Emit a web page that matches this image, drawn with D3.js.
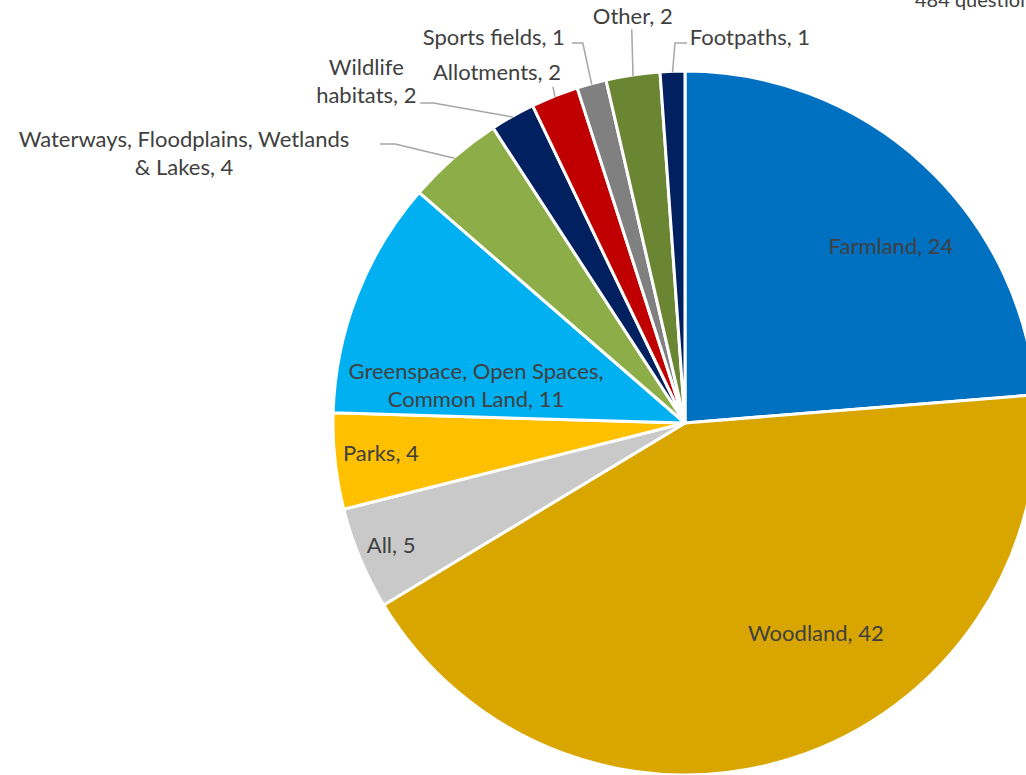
<!DOCTYPE html>
<html>
<head>
<meta charset="utf-8">
<script src="https://cdn.jsdelivr.net/npm/d3@7"></script>
<style>
  html, body { margin: 0; padding: 0; background: #fff; overflow: hidden; }
</style>
</head>
<body>
<div id="viz"></div>
<script>
(function() {

// Categories in clockwise order from 12 o'clock.
const categories = ["Farmland", "Woodland", "All", "Parks",
  "Greenspace, Open Spaces, Common Land", "Waterways, Floodplains, Wetlands & Lakes",
  "Wildlife habitats", "Allotments", "Sports fields", "Other", "Footpaths"];
// Shares (labels show them rounded).
const shares = [23.7, 42.6, 4.7, 4.4, 10.9, 4.45, 2.05, 2.17, 1.35, 2.47, 1.13];
// Numbers printed on the data labels.
const labelValues = [24, 42, 5, 4, 11, 4, 2, 2, 1, 2, 1];
const colors = ["#0070C0", "#D9A600", "#C9C9C9", "#FFC000", "#00B0F0", "#8CAD47",
  "#002060", "#C00000", "#808080", "#6A8633", "#002060"];
// How each label text is broken into lines.
const labelLines = [
  ["Farmland, 24"], ["Woodland, 42"], ["All, 5"], ["Parks, 4"],
  ["Greenspace, Open Spaces,", "Common Land, 11"],
  ["Waterways, Floodplains, Wetlands", "& Lakes, 4"],
  ["Wildlife", "habitats, 2"], ["Allotments, 2"], ["Sports fields, 1"],
  ["Other, 2"], ["Footpaths, 1"]
];

let canvasWidth = 1026;
let canvasHeight = 775;
let cx = 685;
let cy = 423;
let radius = 352;
let fontSize = 22;
let lineHeight = 28.5;

// Label centres in polar form: [angle in degrees clockwise from top, radius factor].
let labelPolar = [
  [49.2, 0.773], [147.9, 0.70], [247.6, 0.903], [264.55, 0.868], [280.6, 0.604],
  [298.4, 1.618], [317.1, 1.33], [331.9, 1.134], [333.7, 1.226], [352.7, 1.168], [9.53, 1.115]
];
// Leader lines for outside labels: end point offset from label centre and elbow length.
let leaders = {
  5: { end: [196, -8], elbow: 15 },
  6: { end: [54, 23], elbow: 13 },
  7: { end: [56, 16], elbow: 0 },
  8: { end: [78, 7], elbow: 11 },
  9: { end: [-1, 14], elbow: 0 },
  10: { end: [-63, 7], elbow: -12 }
};

function polar(angleDeg, dist) {
  let a = angleDeg * Math.PI / 180;
  return [cx + dist * Math.sin(a), cy - dist * Math.cos(a)];
}

let svg = d3.select("#viz").append("svg")
  .attr("width", canvasWidth)
  .attr("height", canvasHeight);

let data = categories.map((c, i) => ({ name: c, share: shares[i], i: i }));

let pie = d3.pie()
  .sort(null)
  .value((d) => d.share);
let arcs = pie(data);
let arc = d3.arc().innerRadius(0).outerRadius(radius);

let slices = svg.append("g")
  .attr("transform", "translate(" + cx + "," + cy + ")");
slices.selectAll("path")
  .data(arcs)
  .enter().append("path")
    .attr("d", arc)
    .attr("fill", (d) => colors[d.data.i])
    .attr("stroke", "#fff")
    .attr("stroke-width", 3)
    .attr("stroke-linejoin", "round");

// Leader lines
let leaderRoot = svg.append("g");
arcs.forEach((d) => {
  let L = leaders[d.data.i];
  if (!L) return;
  let mid = (d.startAngle + d.endAngle) / 2 * 180 / Math.PI;
  let start = polar(mid, radius - 1);
  let lp = labelPolar[d.data.i];
  let c = polar(lp[0], lp[1] * radius);
  let end = [c[0] + L.end[0], c[1] + L.end[1]];
  let pts = [start];
  if (L.elbow !== 0) pts.push([end[0] + L.elbow, end[1]]);
  pts.push(end);
  leaderRoot.append("path")
    .attr("d", d3.line()(pts))
    .attr("fill", "none")
    .attr("stroke", "#A6A6A6")
    .attr("stroke-width", 1.5);
});

// Labels
let labelRoot = svg.append("g")
  .attr("font-family", "Lato, 'Noto Sans', sans-serif")
  .attr("font-size", fontSize)
  .attr("fill", "#404040")
  .attr("text-anchor", "middle");
arcs.forEach((d) => {
  let i = d.data.i;
  let lp = labelPolar[i];
  let c = polar(lp[0], lp[1] * radius);
  let lines = labelLines[i];
  let t = labelRoot.append("text")
    .attr("x", c[0])
    .attr("y", c[1] - (lines.length - 1) * lineHeight / 2)
    .attr("dominant-baseline", "central");
  lines.forEach((s, k) => {
    t.append("tspan")
      .attr("x", c[0])
      .attr("dy", k === 0 ? 0 : lineHeight)
      .text(s);
  });
});

// Subtitle, cut off by the top edge as in the original
svg.append("text")
  .attr("x", 915)
  .attr("y", 7)
  .attr("font-family", "Lato, 'Noto Sans', sans-serif")
  .attr("font-size", 20)
  .attr("fill", "#404040")
  .text("484 questions");

})();
</script>
</body>
</html>
